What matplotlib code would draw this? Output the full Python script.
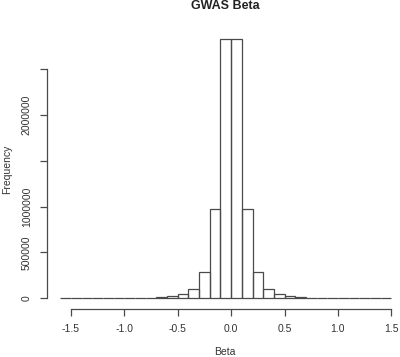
import numpy as np
import matplotlib
matplotlib.use("Agg")
import matplotlib.pyplot as plt

# histogram of GWAS beta, bins of width 0.1 from -1.6 to 1.5
bin_edges = np.round(np.arange(-1.6, 1.5001, 0.1), 2)
counts = [0, 0, 0, 0, 0, 100,
          500, 4000, 8000, 14000, 25000, 51000, 105000, 290000, 970000, 2821000,
          2821000, 970000, 290000, 105000, 51000, 25000, 14000, 8000, 4000, 500,
          100, 0, 0, 0, 0]

x_ticks = [-1.5, -1.0, -0.5, 0.0, 0.5, 1.0, 1.5]
y_ticks = [0, 500000, 1000000, 1500000, 2000000, 2500000]
y_labels = ["0", "500000", "1000000", "", "2000000", ""]

plt.rcParams['font.family'] = ['Liberation Sans', 'DejaVu Sans']
line_col = '#4a4a4a'

fig = plt.figure(figsize=(4.0, 3.57), dpi=100)
ax = fig.add_axes([0.1175, 0.1353, 0.894, 0.7835])

ax.bar(bin_edges[:-1], counts, width=0.1, align='edge', fill=False,
       edgecolor=line_col, linewidth=0.9)

# R-style 4% padding around data range
ymax = max(counts)
ax.set_xlim(-1.6 - 0.04 * 3.1, 1.5 + 0.04 * 3.1)
ax.set_ylim(-0.04 * ymax, ymax * 1.04)

for s in ['top', 'right']:
    ax.spines[s].set_visible(False)
ax.spines['left'].set_bounds(0, 2500000)
ax.spines['bottom'].set_bounds(-1.5, 1.5)
for s in ['left', 'bottom']:
    ax.spines[s].set_color(line_col)
    ax.spines[s].set_linewidth(0.9)

ax.set_xticks(x_ticks)
ax.set_xticklabels([f"{v:.1f}" for v in x_ticks])
ax.set_yticks(y_ticks)
ax.set_yticklabels(y_labels, rotation=90, va='center')
ax.tick_params(direction='out', length=5, width=0.9, color=line_col,
               labelsize=7.5, labelcolor='#333333', pad=6)

fig.text(0.5625, 0.983, "GWAS Beta", ha='center', va='center',
         fontsize=9, fontweight='bold', color='#222222')
fig.text(0.5625, 0.014, "Beta", ha='center', va='center',
         fontsize=7.5, color='#333333')
fig.text(0.018, 0.527, "Frequency", ha='center', va='center',
         rotation=90, fontsize=7.5, color='#333333')

fig.savefig("out.png", dpi=100)
